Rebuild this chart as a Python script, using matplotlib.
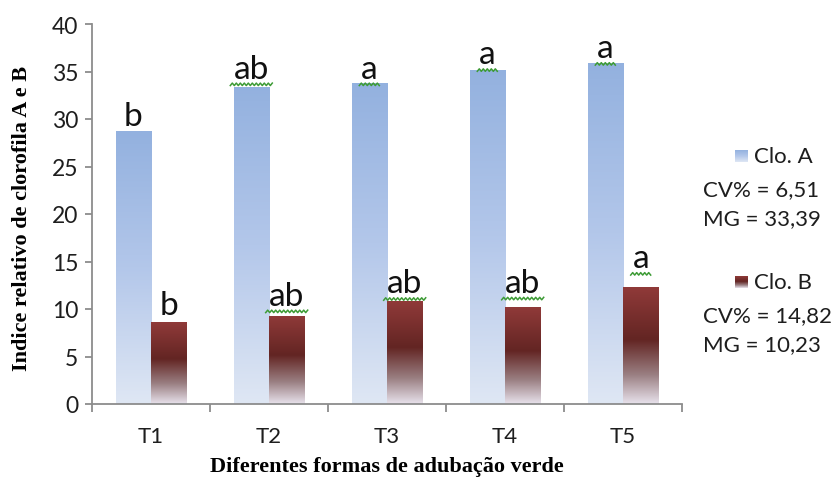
import matplotlib.pyplot as plt
import numpy as np
from matplotlib.colors import LinearSegmentedColormap

tratamentos = ['T1', 'T2', 'T3', 'T4', 'T5']
clo_a = [28.7, 33.4, 33.8, 35.2, 35.85]
clo_b = [8.6, 9.3, 10.8, 10.2, 12.3]
letras_a = ['b', 'ab', 'a', 'a', 'a']
letras_b = ['b', 'ab', 'ab', 'ab', 'a']
# letras com sublinhado verde (corretor do Word)
sublinhado_a = [False, True, True, True, True]
sublinhado_b = [False, True, True, True, True]
desloc_a = [0.65, 0.95, 0.55, 0.65, 0.65]
desloc_b = [0.85, 1.15, 0.95, 1.6, 2.1]
stats_a = ['CV% = 6,51', 'MG = 33,39']
stats_b = ['CV% = 14,82', 'MG = 10,23']

W, H = 835, 481
fig = plt.figure(figsize=(W / 100, H / 100), dpi=100)
ax = fig.add_axes([92 / W, 1 - 405 / H, 590 / W, 380 / H])

cmap_a = LinearSegmentedColormap.from_list('a', ['#93b1df', '#b3c7ea', '#dfe7f4'])
cmap_b = LinearSegmentedColormap.from_list('b', [(0, '#903a39'), (0.45, '#632523'),
                                                 (0.75, '#9a7f82'), (1, '#e8e2ec')])
grad = np.linspace(0, 1, 256).reshape(-1, 1)

x = np.arange(len(tratamentos))
larg = 0.3
barras_a = ax.bar(x - larg / 2, clo_a, larg, color='none', edgecolor='none')
barras_b = ax.bar(x + larg / 2, clo_b, larg, color='none', edgecolor='none')

for barras, cm in ((barras_a, cmap_a), (barras_b, cmap_b)):
    for p in barras:
        x0, w, h = p.get_x(), p.get_width(), p.get_height()
        im = ax.imshow(grad, cmap=cm, aspect='auto', extent=(x0, x0 + w, 0, h),
                       origin='upper', zorder=2)
        im.set_clip_path(p)


def squiggle(xc, y, wpx):
    # zigzag verde, em unidades de dados (1 categoria = 118 px, 1 unidade y = 9.5 px)
    n = int(wpx / 2)
    xs = xc - wpx / 236 + np.arange(n + 1) * 2 / 118
    ys = y + np.where(np.arange(n + 1) % 2 == 0, -0.13, 0.13)
    ax.plot(xs, ys, color='#3d9b35', lw=1.1, zorder=4, clip_on=False)


for xs, vals, letras, desl, sub in ((x - larg / 2, clo_a, letras_a, desloc_a, sublinhado_a),
                                    (x + larg / 2, clo_b, letras_b, desloc_b, sublinhado_b)):
    for xi, v, l, d, s in zip(xs, vals, letras, desl, sub):
        ax.text(xi, v + d, l, ha='center', va='baseline', fontsize=24,
                family='Lato', color='#111111', zorder=5)
        if s:
            squiggle(xi, v + d - 0.7, 42 if len(l) == 2 else 20)

ax.set_xlim(-0.5, 4.5)
ax.set_ylim(0, 40)
ax.set_yticks(range(0, 41, 5))
ax.set_xticks(x)
ax.set_xticklabels(tratamentos)
ax.set_xticks(np.arange(-0.5, 5, 1), minor=True)
for s in ('top', 'right'):
    ax.spines[s].set_visible(False)
for s in ('left', 'bottom'):
    ax.spines[s].set_color('#8c8c8c')
    ax.spines[s].set_linewidth(1.3)
ax.tick_params(axis='y', length=5, color='#8c8c8c', width=1.3, labelsize=16.5,
               labelcolor='#1e1e1e', pad=5)
ax.tick_params(axis='x', which='major', length=0, labelsize=16, labelcolor='#1e1e1e', pad=16)
ax.tick_params(axis='x', which='minor', length=6, color='#8c8c8c', width=1.3)
for t in ax.get_xticklabels() + ax.get_yticklabels():
    t.set_family('Lato')

ax.set_xlabel('Diferentes formas de adubação verde', family='Liberation Serif',
              fontweight='bold', fontsize=16, labelpad=7)
fig.text(22 / W, 1 - 218 / H, 'Indice relativo de clorofila A e B', rotation=90,
         family='Liberation Serif', fontweight='bold', fontsize=16,
         ha='center', va='center')

# legenda manual com estatísticas
for cm, nome, stats, yl in ((cmap_a, 'Clo. A', stats_a, 157),
                            (cmap_b, 'Clo. B', stats_b, 283)):
    lax = fig.add_axes([735 / W, 1 - (yl + 6) / H, 13 / W, 12 / H])
    lax.imshow(grad, cmap=cm, aspect='auto')
    lax.axis('off')
    fig.text(754 / W, 1 - yl / H, nome, family='Lato', fontsize=16,
             color='#1e1e1e', va='center')
    for i, s in enumerate(stats):
        fig.text(703 / W, 1 - (yl + 33 + 29 * i) / H, s, family='Lato', fontsize=16,
                 color='#1e1e1e', va='center')

fig.savefig('out.png', dpi=100)
